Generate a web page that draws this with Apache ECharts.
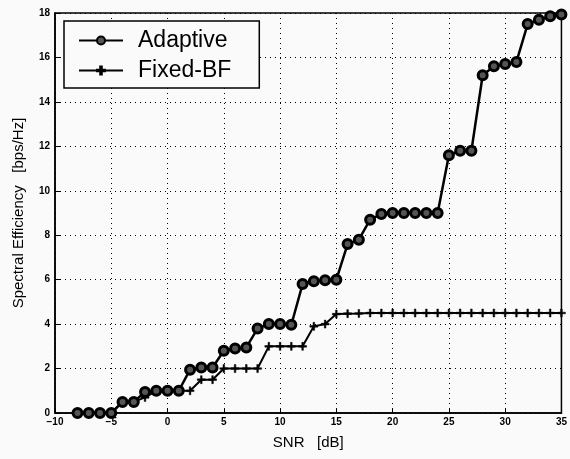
<!DOCTYPE html>
<html>
<head>
<meta charset="utf-8">
<script src="https://cdn.jsdelivr.net/npm/echarts@6/dist/echarts.min.js"></script>
<style>
  html, body { margin: 0; padding: 0; background: #fafafa; }
  #main { width: 570px; height: 459px; }
</style>
</head>
<body>
<div id="main"></div>
<script>
// SNR points in dB
const snr = [-8, -7, -6, -5, -4, -3, -2, -1, 0, 1, 2, 3, 4, 5, 6, 7, 8, 9, 10, 11, 12, 13, 14, 15,
  16, 17, 18, 19, 20, 21, 22, 23, 24, 25, 26, 27, 28, 29, 30, 31, 32, 33, 34, 35];

// spectral efficiency [bps/Hz]
const adaptive = [0, 0, 0, 0, 0.5, 0.5, 0.95, 1, 1, 1, 1.95, 2.05, 2.05, 2.8, 2.9, 2.95, 3.8, 4, 4, 3.97,
  5.8, 5.93, 5.97, 6, 7.6, 7.8, 8.7, 8.95, 9, 9, 9, 9, 9, 11.6, 11.8, 11.8, 15.2, 15.6, 15.7, 15.8,
  17.5, 17.7, 17.85, 17.93];
const fixedBF = [0, 0, 0, 0, 0.5, 0.5, 0.7, 1, 1, 1, 1, 1.5, 1.5, 2, 2, 2, 2, 3, 3, 3,
  3, 3.9, 4, 4.45, 4.47, 4.48, 4.5, 4.5, 4.5, 4.5, 4.5, 4.5, 4.5, 4.5, 4.5, 4.5, 4.5, 4.5, 4.5, 4.5,
  4.5, 4.5, 4.5, 4.5];

const xTicks = [-10, 35, 5];
const yTicks = [0, 18, 2];

const font = "Liberation Sans";

var chart = echarts.init(document.getElementById("main"));

function pairs(ys) {
  return snr.map((x, i) => [x, ys[i]]);
}

var option = {
  backgroundColor: "#fafafa",
  animation: false,
  grid: {
    left: 55, right: 7, top: 13, bottom: 46,
    show: true, borderColor: "#000", borderWidth: 1.5,
  },
  legend: {
    left: 64, top: 21,
    orient: "vertical",
    backgroundColor: "#fafafa",
    borderColor: "#000", borderWidth: 1.5,
    padding: [8, 28, 6, 14],
    itemGap: 7,
    itemWidth: 44, itemHeight: 10,
    textStyle: { fontFamily: font, fontSize: 23, color: "#000", padding: [0, 0, 0, 10] },
    data: ["Adaptive", "Fixed-BF"],
  },
  xAxis: {
    type: "value",
    min: xTicks[0], max: xTicks[1], interval: xTicks[2],
    name: "SNR   [dB]",
    nameLocation: "middle", nameGap: 22,
    nameTextStyle: { fontFamily: font, fontSize: 15, color: "#000" },
    axisLine: { show: true, onZero: false, lineStyle: { color: "#000", width: 1.5 } },
    axisTick: { inside: true, length: 5, lineStyle: { color: "#000" } },
    axisLabel: {
      fontFamily: font, fontSize: 10, fontWeight: "bold", color: "#000", margin: 4,
      formatter: (v) => (v < 0 ? "\u2212" + Math.abs(v) : String(v)),
    },
    splitLine: { show: true, lineStyle: { type: [1, 4], color: "#000", width: 1 } },
  },
  yAxis: {
    type: "value",
    min: yTicks[0], max: yTicks[1], interval: yTicks[2],
    name: "Spectral Efficiency   [bps/Hz]",
    nameLocation: "middle", nameGap: 29,
    nameTextStyle: { fontFamily: font, fontSize: 15, color: "#000" },
    axisLine: { show: true, onZero: false, lineStyle: { color: "#000", width: 1.5 } },
    axisTick: { inside: true, length: 5, lineStyle: { color: "#000" } },
    axisLabel: { fontFamily: font, fontSize: 10, fontWeight: "bold", color: "#000", margin: 5 },
    splitLine: { show: true, lineStyle: { type: [1, 4], color: "#000", width: 1 } },
  },
  series: [
    {
      name: "Adaptive",
      type: "line",
      data: pairs(adaptive),
      symbol: "circle",
      symbolSize: 9,
      showAllSymbol: true,
      lineStyle: { color: "#000", width: 2.5 },
      itemStyle: { color: "#555", borderColor: "#000", borderWidth: 3 },
      z: 3,
    },
    {
      name: "Fixed-BF",
      type: "line",
      data: pairs(fixedBF),
      symbol: "path://M4,0h2v10h-2z M0,4h10v2h-10z",
      symbolSize: [8, 8],
      showAllSymbol: true,
      lineStyle: { color: "#000", width: 2 },
      itemStyle: { color: "#000", borderColor: "#000", borderWidth: 0.5 },
      z: 2,
    },
  ],
};

option && chart.setOption(option);
</script>
</body>
</html>
